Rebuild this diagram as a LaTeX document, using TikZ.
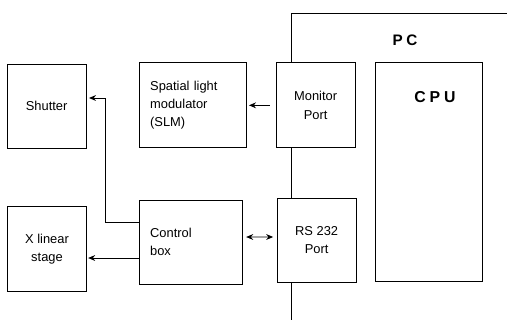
\documentclass[tikz,border=0pt]{standalone}
\usepackage{fontspec}
\setmainfont{Liberation Sans}
\newfontfamily\pcfont[LetterSpace=25]{Liberation Sans}
\usetikzlibrary{arrows.meta,positioning,calc}

\begin{document}
\begin{tikzpicture}[
  line width=0.8pt,
  unit/.style={draw,minimum width=2.37cm,minimum height=2.52cm,
    font=\fontsize{11}{15.5}\selectfont,align=center,inner sep=2pt},
  leftunit/.style={unit,align=left,inner xsep=0.33cm},
  sig/.style={-{Stealth[length=6pt,width=5pt]}},
  biarrow/.style={{Stealth[length=6pt,width=5pt]}-{Stealth[length=6pt,width=5pt]}}
]
  \useasboundingbox (0,0) rectangle (15.21,9.6);

  % Left: devices
  \node[unit] (shutter) at (1.40,6.42) {Shutter};
  \node[unit,minimum height=2.55cm] (stage) at (1.41,2.12) {X linear\\stage};

  % Middle: SLM and control box
  \node[leftunit,text width=2.55cm,minimum height=2.55cm] (slm) at (5.78,6.44)
    {Spatial light\\modulator\\(SLM)};
  \node[leftunit,text width=2.43cm] (ctrl) at (5.72,2.34) {Control\\box\\[0.4cm]};

  % Right: PC with ports and CPU
  \node[unit,minimum height=2.55cm] (mon) at (9.47,6.44) {Monitor\\Port};
  \node[unit] (rs) at (9.50,2.40) {RS 232\\Port};
  \node[draw,minimum width=3.21cm,minimum height=6.57cm] (cpu) at (12.86,4.43) {};
  \node[font=\pcfont\fontsize{13.5}{16}\selectfont\bfseries] (cpulabel) at (13.05,6.69) {CPU};
  \node[font=\pcfont\fontsize{13}{16}\selectfont\bfseries] (pclabel) at (12.15,8.40) {PC};

  % PC outline
  \coordinate (pcnw) at (8.73,9.21);
  \coordinate (pcne) at (15.21,9.21);
  \coordinate (pcsw) at (8.73,0);
  \draw (pcne) -- (pcnw) -- (pcnw |- mon.north);
  \draw (pcnw |- mon.south) -- (pcnw |- rs.north);
  \draw (pcnw |- rs.south) -- (pcsw);

  % Signals
  \draw[sig,shorten <=5pt,shorten >=2pt] (mon.west) -- (slm.east |- mon.west);
  \coordinate (bend) at (3.15,6.66);
  \draw[sig,shorten >=2pt] ([yshift=0.6cm]ctrl.west) -| (bend) -- (shutter.east |- bend);
  \draw[sig,shorten >=1pt] ([yshift=-0.48cm]ctrl.west) -- (stage.east |- 0,1.86);
  \draw[biarrow,shorten <=3pt,shorten >=3pt] ([yshift=0.15cm]ctrl.east) -- (rs.west |- 0,2.49);
\end{tikzpicture}
\end{document}
